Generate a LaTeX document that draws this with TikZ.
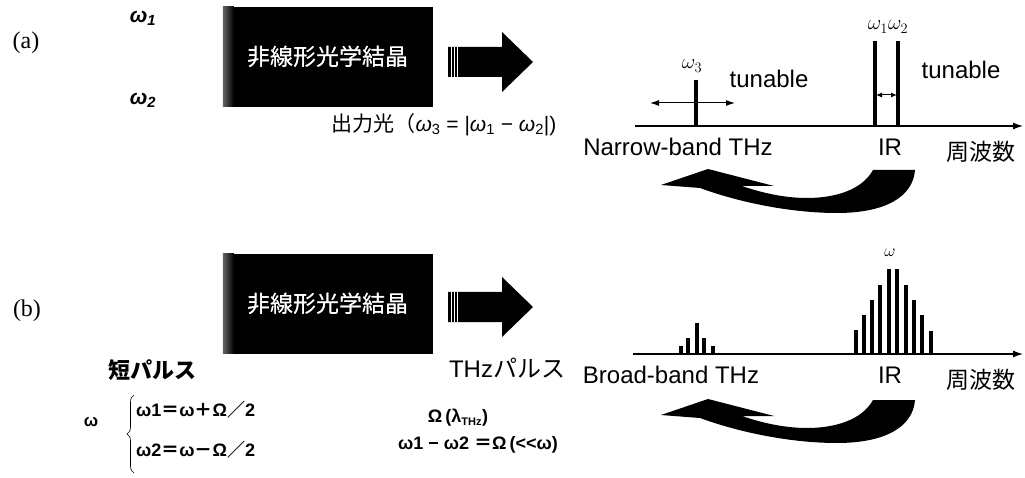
\documentclass[tikz,border=0pt]{standalone}
\usepackage{fontspec}
\setmainfont{Liberation Sans}
\newfontfamily\jpfont{Noto Sans CJK JP}
\newfontfamily\tmfont{Liberation Serif}
\usetikzlibrary{arrows.meta,decorations.pathreplacing}

\tikzset{
  crystal/.style={fill=black,minimum width=210pt,minimum height=100pt,inner sep=0pt,
    text=white,font=\jpfont\fontsize{23}{23}\selectfont},
  lbl/.style={font=\fontsize{24}{24}\selectfont,inner sep=0pt},
  jlbl/.style={font=\jpfont\fontsize{23}{23}\selectfont,inner sep=0pt},
  eqn/.style={font=\bfseries\fontsize{18}{18}\selectfont,inner sep=0pt,anchor=west},
  freqaxis/.style={line width=1.3pt,-{Latex[length=10pt,width=7pt]}},
  peak/.style={line width=3.8pt},
  tunearrow/.style={line width=1pt,{Latex[length=9pt,width=6pt]}-{Latex[length=9pt,width=6pt]}},
}

\begin{document}
\begin{tikzpicture}[x=1pt,y=-1pt]
  \useasboundingbox (0,0) rectangle (1025,478);

  % ---- (a) difference frequency generation
  \node[font=\tmfont\fontsize{24}{24}\selectfont,inner sep=0pt] (labA) at (26,43) {(a)};
  \node[font=\bfseries\itshape\fontsize{21}{21}\selectfont,inner sep=0pt] (inA1) at (143,18) {ω\textsubscript{1}};
  \node[font=\bfseries\itshape\fontsize{21}{21}\selectfont,inner sep=0pt] (inA2) at (143,100) {ω\textsubscript{2}};
  \node[crystal] (crysA) at (328,57) {非線形光学結晶};
  \shade[left color=black!60,right color=black] (crysA.north west) rectangle ++(11,100);
  \node[crystal,fill=none] at (crysA) {非線形光学結晶};
  \node[font=\fontsize{21}{21}\selectfont,inner sep=0pt] (outA) at (444,125)
    {{\jpfont 出力光（}\textit{ω}\textsubscript{3} = |\textit{ω}\textsubscript{1} − \textit{ω}\textsubscript{2}|)};
  \fill (448,47) -- (502,47) -- (502,32) -- (533,62) -- (502,92) -- (502,77) -- (448,77) -- cycle;
  \foreach \sx in {451,454,457}
    \draw[white,line width=0.6pt] (\sx,47) -- (\sx,77);

  \coordinate (axA0) at (635,126);
  \coordinate (axA1) at (1023,126);
  \draw[freqaxis] (axA0) -- (axA1);
  \coordinate (w3) at (696,126);
  \draw[peak] (w3) -- ++(0,-46);
  \coordinate (tuneA0) at (650,103);
  \coordinate (tuneA1) at (735,103);
  \draw[tunearrow] (tuneA0) -- (tuneA1);
  \node[font=\fontsize{21}{21}\selectfont,inner sep=0pt] (w3lbl) at (692,66) {$\omega_3$};
  \node[lbl] (tunA) at (769,79) {tunable};
  \coordinate (w1) at (875,126);
  \coordinate (w2) at (898,126);
  \draw[peak] (w1) -- ++(0,-85);
  \draw[peak] (w2) -- ++(0,-85);
  \coordinate (tuneB0) at (876,95);
  \coordinate (tuneB1) at (897,95);
  \draw[line width=1pt,{Latex[length=6pt,width=5pt]}-{Latex[length=6pt,width=5pt]}] (tuneB0) -- (tuneB1);
  \node[font=\fontsize{21}{21}\selectfont,inner sep=0pt] (w12lbl) at (888,27) {$\omega_1\omega_2$};
  \node[lbl] (tunB) at (961,70) {tunable};
  \node[lbl] (narrow) at (678,147) {Narrow-band THz};
  \node[lbl] (irA) at (890,147) {IR};
  \node[jlbl] (freqA) at (981,152) {周波数};

  % ---- (b) optical rectification
  \node[font=\tmfont\fontsize{24}{24}\selectfont,inner sep=0pt] (labB) at (27,311) {(b)};
  \node[crystal] (crysB) at (328,304) {非線形光学結晶};
  \shade[left color=black!60,right color=black] (crysB.north west) rectangle ++(11,100);
  \node[crystal,fill=none] at (crysB) {非線形光学結晶};
  \node[jlbl,font=\jpfont\bfseries\fontsize{22}{22}\selectfont] (pulse) at (152,370) {短パルス};
  \node[lbl] (thzpulse) at (507,368) {THz{\jpfont パルス}};
  \fill (448,292) -- (502,292) -- (502,277) -- (533,307) -- (502,337) -- (502,322) -- (448,322) -- cycle;
  \foreach \sx in {451,454,457}
    \draw[white,line width=0.6pt] (\sx,292) -- (\sx,322);

  \coordinate (axB0) at (633,354);
  \coordinate (axB1) at (1023,354);
  \draw[freqaxis] (axB0) -- (axB1);
  \foreach \px/\ph in {681/8,688/16,697/31,704/16,713/8}
    \draw[line width=3.2pt] (\px,354) -- ++(0,-\ph);
  \foreach \px/\ph in {856/24,864/39,872/54,880/69,889/85,897/85,906/69,914/54,922/39,931/23}
    \draw[line width=3.4pt] (\px,354) -- ++(0,-\ph);
  \node[font=\fontsize{16}{16}\selectfont,inner sep=0pt] (wlbl) at (890,253) {$\omega$};
  \node[lbl] (broad) at (671,375) {Broad-band THz};
  \node[lbl] (irB) at (890,375) {IR};
  \node[jlbl] (freqB) at (981,380) {周波数};

  % conversion arrows below both spectra
  \foreach \dy in {0,230}
    \fill (873,170+\dy) -- (915,170+\dy)
      .. controls (913,197+\dy) and (885,213+\dy) .. (837,213+\dy)
      .. controls (790,213+\dy) and (738,202+\dy) .. (700,188+\dy)
      -- (661,185+\dy) -- (708,169+\dy) -- (774,186+\dy) -- (742,186+\dy)
      .. controls (768,195+\dy) and (790,198+\dy) .. (807,198+\dy)
      .. controls (835,198+\dy) and (862,190+\dy) .. (873,170+\dy) -- cycle;

  % frequency relations
  \node[font=\bfseries\fontsize{17}{17}\selectfont,inner sep=0pt] (wc) at (91,422) {ω};
  \coordinate (brT) at (134,395);
  \coordinate (brB) at (134,473);
  \draw[decorate,decoration={brace,amplitude=7pt},line width=0.6pt] (brB) -- (brT);
  \node[eqn] (eqA) at (136,410) {ω1{\jpfont ＝}ω{\jpfont ＋}Ω{\jpfont ／}2};
  \node[eqn] (eqB) at (136,450) {ω2{\jpfont ＝}ω{\jpfont －}Ω{\jpfont ／}2};
  \node[font=\bfseries\fontsize{18}{18}\selectfont,inner sep=0pt] (omg) at (458,418)
    {Ω\,(λ\textsubscript{\fontsize{11}{11}\selectfont THz})};
  \node[eqn] (eqC) at (398,445) {ω1 − ω2 {\jpfont ＝}Ω\,(\textless\kern0pt\textless\kern0pt ω)};
\end{tikzpicture}
\end{document}
